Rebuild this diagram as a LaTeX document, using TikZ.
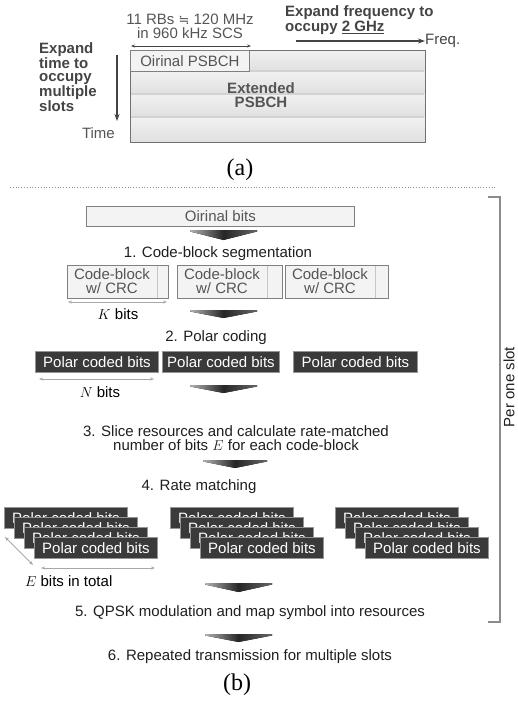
\documentclass[tikz,border=0pt]{standalone}
\usepackage{fontspec}
\setmainfont{Liberation Sans}
\newfontfamily\capfont{Liberation Serif}
\newfontfamily\symfont{DejaVu Sans}
\usetikzlibrary{arrows.meta}

\definecolor{txtgray}{HTML}{555555}
\definecolor{labgray}{HTML}{444444}
\definecolor{boxfill}{HTML}{F3F3F3}
\definecolor{boxline}{HTML}{808080}
\definecolor{polarfill}{HTML}{3A3A3A}
\definecolor{polarline}{HTML}{959595}
\definecolor{rowtop}{HTML}{F1F1F1}
\definecolor{rowbot}{HTML}{E0E0E0}
\definecolor{rowline}{HTML}{D2D2D2}
\definecolor{outline}{HTML}{707070}
\definecolor{dimgray}{HTML}{A8A8A8}
\definecolor{bracketgray}{HTML}{8C8C8C}

\tikzset{
  base/.style={font=\fontsize{15}{14}\selectfont, inner sep=0pt},
  boldbase/.style={font=\fontsize{15}{13.5}\selectfont\bfseries, inner sep=0pt},
  lightbox/.style={draw=boxline, fill=boxfill, line width=0.8pt, inner sep=0pt, anchor=north west},
  polarbox/.style={draw=polarline, fill=polarfill, line width=0.9pt, inner sep=0pt,
    anchor=north west, text=white, font=\fontsize{15}{14}\selectfont,
    minimum height=21pt},
  steptext/.style={base, text=black!88, align=center},
  dimline/.style={draw=dimgray, line width=0.8pt, {Stealth[length=4pt,width=3pt]}-{Stealth[length=4pt,width=3pt]}},
  axisarrow/.style={draw=labgray, line width=1.3pt, -{Stealth[length=7pt,width=5pt]}},
  caption/.style={font=\capfont\fontsize{24}{24}\selectfont, inner sep=0pt},
}

% block arrow pointing down between processing steps
\newcommand{\flowdown}[4]{%
  \fill[left color=black!30, right color=black!60, middle color=black!85]
    (#1,#3) -- (#2,#3) -- (#2,#3+1.5) -- ({(#1+#2)/2},#4) -- (#1,#3+1.5) -- cycle;}

\begin{document}
\begin{tikzpicture}[x=1pt,y=-1pt]
\useasboundingbox (0,0) rectangle (517,704);

% ---------------- (a) resource grid ----------------
\foreach \ya/\yb in {50/71,71/94,94/117,117/142}
  \fill[top color=rowtop, bottom color=rowbot] (130,\ya) rectangle (425,\yb);
\foreach \yl in {71,94,117}
  \draw[rowline, line width=1.2pt] (130.6,\yl) -- (424.4,\yl);
\node[draw=outline, line width=1.2pt, minimum width=295pt, minimum height=92pt,
      inner sep=0pt, anchor=north west] (grid) at (130,50) {};
\node[lightbox, minimum width=119pt, minimum height=21pt, base, text=txtgray,
      anchor=north west] (orig) at (130,50) {Oirinal PSBCH};
\node[boldbase, text=txtgray, align=center] (ext) at (261,95) {Extended\\PSBCH};

\node[base, text=txtgray, align=center] (rbs) at (190,26)
  {11 RBs {\symfont\fontsize{13}{14}\selectfont ≒} 120 MHz\\in 960 kHz SCS};
\coordinate (w1) at (131,46);
\coordinate (w2) at (251,46);
\draw[dimline, draw=labgray, line width=0.9pt] (w1) -- (w2);

\node[boldbase, text=labgray, align=left, anchor=west] (efreq) at (285,20)
  {Expand frequency to\\occupy \underline{2 GHz}};
\node[base, text=labgray, anchor=west] (freq) at (425,41) {Freq.};
\coordinate (f1) at (296,41);
\draw[axisarrow] (f1) -- (freq.west);

\node[boldbase, text=labgray, align=left, anchor=west] (etime) at (39,77)
  {Expand\\time to\\occupy\\multiple\\slots};
\coordinate (t1) at (117,55);
\coordinate (t2) at (117,121);
\draw[axisarrow] (t1) -- (t2);
\node[base, text=txtgray, anchor=east] (time) at (115,133) {Time};

\node[caption] (capa) at (240,170) {(a)};

% separator
\coordinate (d1) at (10,187);
\coordinate (d2) at (497,187);
\draw[bracketgray, dotted, line width=0.8pt] (d1) -- (d2);

% ---------------- (b) processing chain ----------------
\node[lightbox, minimum width=268pt, minimum height=20pt, base, text=txtgray]
  (bits) at (86,206) {Oirinal bits};
\flowdown{190}{257}{230}{240}
\node[steptext] (s1) at (218,254) {1. Code-block segmentation};

% code blocks with CRC
\node[lightbox, minimum width=101pt, minimum height=33pt] (cb1) at (67,265) {};
\node[lightbox, minimum width=105pt, minimum height=33pt] (cb2) at (177,265) {};
\node[lightbox, minimum width=103pt, minimum height=33pt] (cb3) at (285,265) {};
\draw[black!22, line width=0.8pt] (157,265.5) -- (157,297.5);
\draw[black!22, line width=0.8pt] (267,265.5) -- (267,297.5);
\draw[black!22, line width=0.8pt] (375,265.5) -- (375,297.5);
\node[base, text=txtgray, align=center] (cbt1) at (112,281.5) {Code-block\\w/ CRC};
\node[base, text=txtgray, align=center] (cbt2) at (222,281.5) {Code-block\\w/ CRC};
\node[base, text=txtgray, align=center] (cbt3) at (330,281.5) {Code-block\\w/ CRC};

\coordinate (k1) at (68,302);
\coordinate (k2) at (167,302);
\draw[dimline] (k1) -- (k2);
\node[base] (kbits) at (118,314) {$K$ bits};

\flowdown{190}{257}{310}{318}
\node[steptext] (s2) at (216,338) {2. Polar coding};

% polar coded blocks
\node[polarbox, minimum width=123pt] (pc1) at (35,351) {Polar coded bits};
\node[polarbox, minimum width=117pt] (pc2) at (162,351) {Polar coded bits};
\node[polarbox, minimum width=124pt] (pc3) at (293,351) {Polar coded bits};

\coordinate (n1) at (39,379);
\coordinate (n2) at (154,379);
\draw[dimline] (n1) -- (n2);
\node[base] (nbits) at (100,392) {$N$ bits};

\flowdown{190}{257}{385}{393}
\node[steptext] (s3) at (236,438.5)
  {3. Slice resources and calculate rate-matched\\number of bits $E$ for each code-block};

\flowdown{203}{267}{460}{468}
\node[steptext] (s4) at (199,487) {4. Rate matching};

% rate-matched copies, stacked
\foreach \gx in {4,170,335}
  \foreach \k in {0,...,3}
    \node[polarbox, minimum width=123pt] (rm-\gx-\k)
      at ({\gx+10*\k},{507+10*\k}) {Polar coded bits};

\coordinate (e1) at (5,537);
\coordinate (e2) at (33,565);
\draw[dimline] (e1) -- (e2);
\coordinate (e3) at (41,568);
\coordinate (e4) at (155,568);
\draw[dimline] (e3) -- (e4);
\node[base, anchor=west] (ebits) at (25,581) {$E$ bits in total};

\flowdown{205}{272}{583}{592}
\node[steptext] (s5) at (250,613) {5. QPSK modulation and map symbol into resources};
\flowdown{205}{272}{634}{642}
\node[steptext] (s6) at (250,657) {6. Repeated transmission for multiple slots};

\node[caption] (capb) at (237,685) {(b)};

% per-slot bracket
\coordinate (b1) at (488,197);
\coordinate (b2) at (500,197);
\coordinate (b3) at (500,622);
\coordinate (b4) at (488,622);
\draw[bracketgray, line width=1.2pt] (b1) -- (b2) -- (b3) -- (b4);
\node[base, rotate=90, text=black!88] (slot) at (509,387) {Per one slot};

\end{tikzpicture}
\end{document}
